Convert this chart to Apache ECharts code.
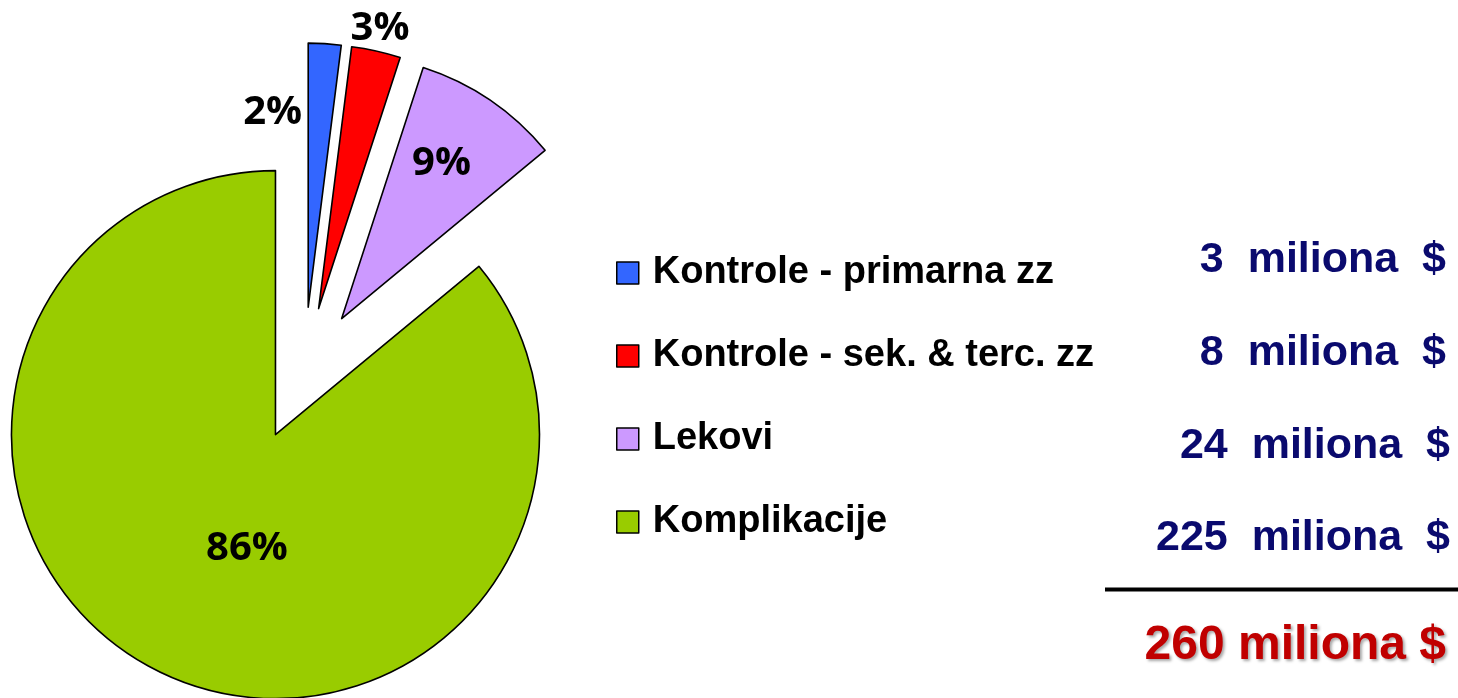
<!DOCTYPE html>
<html>
<head>
<meta charset="utf-8">
<script src="https://cdn.jsdelivr.net/npm/echarts@6/dist/echarts.min.js"></script>
<style>
html,body{margin:0;padding:0;background:#fff;}
#chart{width:1458px;height:698px;}
</style>
</head>
<body>
<div id="chart"></div>
<script>
// ---- data ----
const categories = ['Kontrole - primarna zz', 'Kontrole - sek. & terc. zz', 'Lekovi', 'Komplikacije'];
const shares = [2, 3, 9, 86];           // pie shares (%)
const amounts = [3, 8, 24, 225];        // miliona $
const total = 260;                      // miliona $
const unit = 'miliona';
const colors = ['#3366FF', '#FF0000', '#CC99FF', '#99CC00'];

// label nudges relative to library's inside-label position
const labelShift = [[-44, -60], [32, -148], [24, -43], [29, -8]];

const chart = echarts.init(document.getElementById('chart'), null, {renderer: 'canvas'});

const rowY = [260, 353, 446, 538];
const rowRight = [1446, 1446, 1450, 1450];
const graphics = amounts.map((v, i) => ({
  type: 'text',
  style: {
    x: rowRight[i], y: rowY[i],
    text: v + '  ' + unit + '  $',
    fill: '#0A0A6E',
    font: 'bold 43px "Liberation Sans", Arial, sans-serif',
    textAlign: 'right', textVerticalAlign: 'middle'
  }
}));
graphics.push({
  type: 'line',
  shape: {x1: 1105, y1: 589.5, x2: 1458, y2: 589.5},
  style: {stroke: '#000', lineWidth: 4}
});
graphics.push({
  type: 'text',
  style: {
    x: 1446, y: 646,
    text: total + ' ' + unit + ' $',
    fill: '#C00000',
    font: 'bold 48px "Liberation Sans", Arial, sans-serif',
    textAlign: 'right', textVerticalAlign: 'middle',
    textShadowColor: 'rgba(0,0,0,0.35)', textShadowBlur: 3,
    textShadowOffsetX: 2, textShadowOffsetY: 2
  }
});

chart.setOption({
  animation: false,
  color: colors,
  legend: {
    orient: 'vertical',
    left: 616, top: 254,
    padding: 0,
    itemWidth: 22, itemHeight: 22,
    itemGap: 45,
    icon: 'rect',
    selectedMode: false,
    itemStyle: {borderColor: '#000', borderWidth: 1.5},
    textStyle: {
      color: '#000', fontSize: 38, fontWeight: 'bold', lineHeight: 38,
      fontFamily: '"Liberation Sans", Arial, sans-serif',
      padding: [0, 0, 0, 9]
    },
    data: categories
  },
  graphic: graphics,
  series: [{
    type: 'pie',
    center: [304, 374],
    radius: 264,
    startAngle: 90,
    clockwise: true,
    selectedMode: 'multiple',
    selectedOffset: 67,
    percentPrecision: 0,
    avoidLabelOverlap: false,
    emphasis: {disabled: true},
    itemStyle: {borderColor: '#000', borderWidth: 1.6},
    label: {
      show: true,
      position: 'inside',
      formatter: '{d}%',
      color: '#000',
      fontSize: 40,
      fontWeight: 'bold',
      fontFamily: '"Open Sans", "Noto Sans", sans-serif'
    },
    labelLine: {show: false},
    labelLayout: function (p) {
      const s = labelShift[p.dataIndex];
      return {dx: s[0], dy: s[1]};
    },
    data: categories.map((c, i) => ({name: c, value: shares[i], selected: true}))
  }]
});
</script>
</body>
</html>
